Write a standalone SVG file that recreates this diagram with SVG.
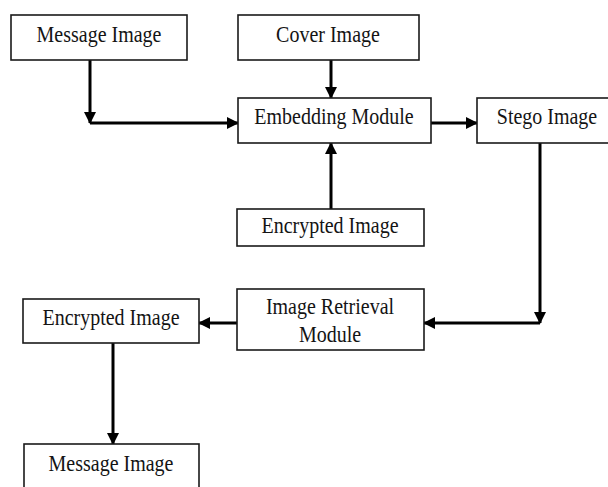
<svg xmlns="http://www.w3.org/2000/svg" width="608" height="487" viewBox="0 0 608 487">
<defs>
<style>
.box{fill:#fff;stroke:#1a1a1a;stroke-width:1.6}
.lbl{font-family:"Liberation Serif","Times New Roman",serif;font-size:20px;fill:#141414;text-anchor:middle}
.con{stroke:#000;stroke-width:3;fill:none}
</style>
<marker id="ah" markerUnits="userSpaceOnUse" markerWidth="12" markerHeight="12" refX="11" refY="6" orient="auto">
<path d="M0,0 L12,6 L0,12 z" fill="#000"/>
</marker>
</defs>
<rect width="608" height="487" fill="#fff"/>
<g id="connectors">
<line class="con" x1="90" y1="60" x2="90" y2="123" marker-end="url(#ah)"/>
<line class="con" x1="90" y1="123" x2="238" y2="123" marker-end="url(#ah)"/>
<line class="con" x1="331" y1="60" x2="331" y2="98" marker-end="url(#ah)"/>
<line class="con" x1="331" y1="209" x2="331" y2="143" marker-end="url(#ah)"/>
<line class="con" x1="431" y1="123" x2="477" y2="123" marker-end="url(#ah)"/>
<line class="con" x1="540" y1="143" x2="540" y2="323" marker-end="url(#ah)"/>
<line class="con" x1="540" y1="323" x2="424" y2="323" marker-end="url(#ah)"/>
<line class="con" x1="237" y1="323" x2="199" y2="323" marker-end="url(#ah)"/>
<line class="con" x1="113" y1="343" x2="113" y2="444" marker-end="url(#ah)"/>
</g>
<g id="message-image">
<rect class="box" x="11" y="15" width="176" height="45"/>
<text class="lbl" transform="translate(99,42) scale(1,1.12)">Message Image</text>
</g>
<g id="cover-image">
<rect class="box" x="238" y="15" width="181" height="45"/>
<text class="lbl" transform="translate(328,42) scale(1,1.12)">Cover Image</text>
</g>
<g id="embedding-module">
<rect class="box" x="238" y="98" width="193" height="45"/>
<text class="lbl" transform="translate(334,124) scale(1,1.12)">Embedding Module</text>
</g>
<g id="stego-image">
<rect class="box" x="477" y="98" width="140" height="45"/>
<text class="lbl" transform="translate(547,124) scale(1,1.12)">Stego Image</text>
</g>
<g id="encrypted-image-1">
<rect class="box" x="237" y="209" width="187" height="37"/>
<text class="lbl" transform="translate(330,233) scale(1,1.12)">Encrypted Image</text>
</g>
<g id="image-retrieval-module">
<rect class="box" x="237" y="289" width="187" height="61"/>
<text class="lbl" transform="translate(330,314) scale(1,1.12)">Image Retrieval</text>
<text class="lbl" transform="translate(330,342) scale(1,1.12)">Module</text>
</g>
<g id="encrypted-image-2">
<rect class="box" x="23" y="299" width="176" height="44"/>
<text class="lbl" transform="translate(111,325) scale(1,1.12)">Encrypted Image</text>
</g>
<g id="message-image-2">
<rect class="box" x="24" y="444" width="175" height="60"/>
<text class="lbl" transform="translate(111,471) scale(1,1.12)">Message Image</text>
</g>
</svg>
